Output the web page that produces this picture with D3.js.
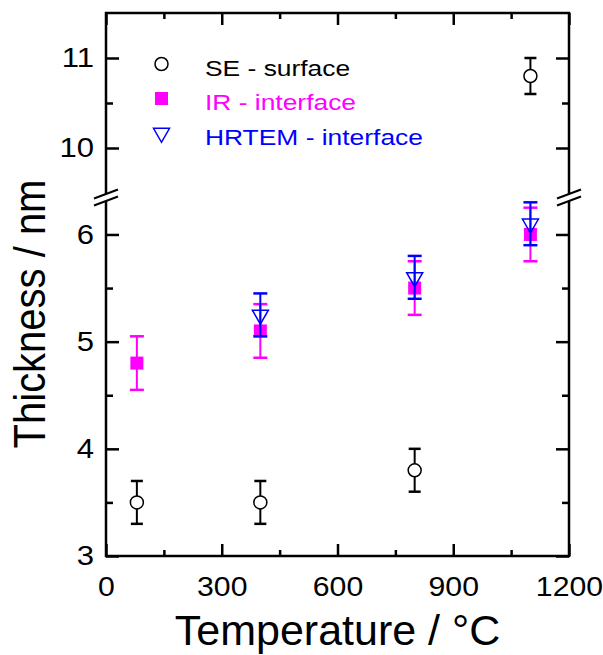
<!DOCTYPE html>
<html>
<head>
<meta charset="utf-8">
<script src="https://cdn.jsdelivr.net/npm/d3@7"></script>
<style>
  body { margin: 0; background: #fff; }
  text { font-family: "Liberation Sans", Arial, sans-serif; }
</style>
</head>
<body>
<div id="chart"></div>
<script>
// Data
var temps = [80, 400, 800, 1100];
var seThick = [3.5, 3.5, 3.8, 10.8];
var seErr = [0.2, 0.2, 0.2, 0.2];
var irThick = [4.8, 5.1, 5.5, 6.0];
var irErr = [0.25, 0.25, 0.25, 0.25];
var hrTemps = [400, 800, 1100];
var hrThick = [5.25, 5.6, 6.1];
var hrErr = [0.2, 0.2, 0.2];

var xTicks = [0, 300, 600, 900, 1200];
var xMinor = [150, 450, 750, 1050];
var yLowTicks = [3, 4, 5, 6];
var yLowMinor = [3.5, 4.5, 5.5];
var yUpTicks = [10, 11];
var yUpMinor = [10.5];
var legendLabels = ["SE - surface", "IR - interface", "HRTEM - interface"];

var margin = { top: 13, right: 34, bottom: 99, left: 106 };
var width = 603 - margin.left - margin.right;
var height = 655 - margin.top - margin.bottom;
var yBreak = 184.5; // where the axis is cut

var svg = d3.select("#chart").append("svg")
    .attr("width", 603)
    .attr("height", 655)
    .append("g")
    .attr("transform", "translate(" + margin.left + "," + margin.top + ")");

var x = d3.scaleLinear().domain([0, 1200]).range([0, width]);
var yLow = d3.scaleLinear().domain([3, 6.345]).range([height, yBreak]);
var yUp = d3.scaleLinear().domain([9.45, 11.5]).range([yBreak, 0]);
function y(v) { return v > 8 ? yUp(v) : yLow(v); }

// widen text about its anchor point, like the original export
function stretch(sel, f) {
    sel.each(function() {
        var ax = +this.getAttribute("x") || 0;
        d3.select(this).attr("transform", "translate(" + ax + ",0) scale(" + f + ",1) translate(" + (-ax) + ",0)");
    });
}

// axes (ticks inward, no domain path)
function tickStyle(g) {
    g.select(".domain").remove();
    g.selectAll("line").attr("stroke", "#000").attr("stroke-width", 2.5);
    g.selectAll("text").style("font-size", "27px").attr("fill", "#000");
}

var gx = svg.append("g").attr("transform", "translate(0," + height + ")")
    .call(d3.axisBottom(x).tickValues(xTicks).tickSize(-12).tickPadding(21).tickFormat(d3.format("d")))
    .call(tickStyle);
stretch(gx.selectAll("text"), 1.12);
svg.append("g").attr("transform", "translate(0," + height + ")")
    .call(d3.axisBottom(x).tickValues(xMinor).tickSize(-6).tickFormat(""))
    .call(tickStyle);
svg.append("g")
    .call(d3.axisTop(x).tickValues(xTicks).tickSize(-12).tickFormat(""))
    .call(tickStyle);
svg.append("g")
    .call(d3.axisTop(x).tickValues(xMinor).tickSize(-6).tickFormat(""))
    .call(tickStyle);

[[yLow, yLowTicks, yLowMinor], [yUp, yUpTicks, yUpMinor]].forEach(function(s) {
    var gl = svg.append("g")
        .call(d3.axisLeft(s[0]).tickValues(s[1]).tickSize(-13).tickPadding(12).tickFormat(d3.format("d")))
        .call(tickStyle);
    stretch(gl.selectAll("text"), 1.15);
    svg.append("g")
        .call(d3.axisLeft(s[0]).tickValues(s[2]).tickSize(-7).tickFormat(""))
        .call(tickStyle);
    svg.append("g").attr("transform", "translate(" + width + ",0)")
        .call(d3.axisRight(s[0]).tickValues(s[1]).tickSize(-13).tickFormat(""))
        .call(tickStyle);
    svg.append("g").attr("transform", "translate(" + width + ",0)")
        .call(d3.axisRight(s[0]).tickValues(s[2]).tickSize(-7).tickFormat(""))
        .call(tickStyle);
});

// frame
svg.append("rect")
    .attr("width", width).attr("height", height)
    .attr("fill", "none").attr("stroke", "#000").attr("stroke-width", 2.5);

// axis breaks
[0, width].forEach(function(bx) {
    var gap = 7, dx = 12, dy = 4.5;
    svg.append("polygon")
        .attr("points", [
            [bx - dx, yBreak + dy - gap / 2], [bx + dx, yBreak - dy - gap / 2],
            [bx + dx, yBreak - dy + gap / 2], [bx - dx, yBreak + dy + gap / 2]
        ].join(" "))
        .attr("fill", "#fff");
    [-gap / 2, gap / 2].forEach(function(o) {
        svg.append("line")
            .attr("x1", bx - dx).attr("y1", yBreak + dy + o)
            .attr("x2", bx + dx).attr("y2", yBreak - dy + o)
            .attr("stroke", "#000").attr("stroke-width", 2);
    });
});

// markers
function drawMarker(g, type, cx, cy) {
    if (type === "circle") {
        g.append("circle").attr("cx", cx).attr("cy", cy).attr("r", 6.5)
            .attr("fill", "#fff").attr("stroke", "#000").attr("stroke-width", 1.5);
    } else if (type === "square") {
        g.append("rect").attr("x", cx - 6.5).attr("y", cy - 6.5).attr("width", 13).attr("height", 13)
            .attr("fill", "#ff00ff");
    } else {
        var h = 14, w = 16;
        g.append("polygon")
            .attr("points", [[cx - w / 2, cy - h / 3], [cx + w / 2, cy - h / 3], [cx, cy + 2 * h / 3]].join(" "))
            .attr("fill", "none").attr("stroke", "#0000ff").attr("stroke-width", 1.5);
    }
}

function drawSeries(xs, vals, errs, color, cap, type) {
    var g = svg.append("g");
    xs.forEach(function(t, i) {
        var cx = x(t), top = y(vals[i] + errs[i]), bot = y(vals[i] - errs[i]);
        g.append("line").attr("x1", cx).attr("x2", cx).attr("y1", top).attr("y2", bot)
            .attr("stroke", color).attr("stroke-width", 2);
        [top, bot].forEach(function(yy) {
            g.append("line").attr("x1", cx - cap / 2).attr("x2", cx + cap / 2).attr("y1", yy).attr("y2", yy)
                .attr("stroke", color).attr("stroke-width", 2.5);
        });
    });
    xs.forEach(function(t, i) { drawMarker(g, type, x(t), y(vals[i])); });
}

drawSeries(temps, seThick, seErr, "#000", 12, "circle");
drawSeries(temps, irThick, irErr, "#ff00ff", 14, "square");
drawSeries(hrTemps, hrThick, hrErr, "#0000ff", 14, "triangle");

// legend
var legendTypes = ["circle", "square", "triangle"];
var legendColors = ["#000", "#ff00ff", "#0000ff"];
var lg = svg.append("g");
legendLabels.forEach(function(lab, i) {
    var ly = 51 + i * 34.5;
    drawMarker(lg, legendTypes[i], 55.5, ly);
    var t = lg.append("text").attr("x", 99).attr("y", ly + 12)
        .attr("fill", legendColors[i]).style("font-size", "22px").text(lab);
    stretch(t, 1.2);
});

// axis titles
svg.append("text")
    .attr("x", width / 2).attr("y", height + 89)
    .attr("text-anchor", "middle").style("font-size", "43px")
    .text("Temperature / °C");

svg.append("text")
    .attr("transform", "translate(" + (-61) + "," + 301 + ") scale(1.13,1) rotate(-90)")
    .attr("text-anchor", "middle").style("font-size", "40px")
    .text("Thickness / nm");
</script>
</body>
</html>
